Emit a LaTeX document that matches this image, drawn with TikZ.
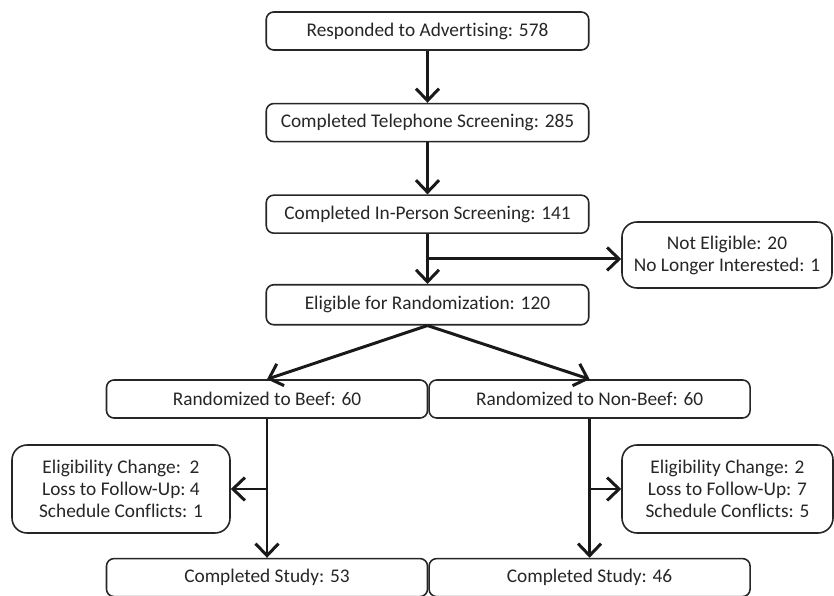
\documentclass[tikz,border=0pt]{standalone}
\usepackage{fontspec}
\setmainfont{Carlito}[Ligatures=NoCommon]
\usepackage{tikz}
\usetikzlibrary{arrows.meta, positioning, calc}

\begin{document}
\begin{tikzpicture}[
    font=\fontsize{11}{12.5}\selectfont,
    node distance=1.04cm,
    block/.style={rectangle, rounded corners=0.15cm, draw=black!85, line width=0.9pt, text=black!85, minimum width=6.45cm, minimum height=0.76cm, inner sep=0pt},
    armbox/.style={block, minimum width=6.42cm},
    sidebox/.style={rectangle, rounded corners=0.3cm, draw=black!85, line width=0.9pt, text=black!85, align=center, inner sep=0pt},
    arrow/.style={-{Straight Barb[length=2.4mm, width=4.6mm]}, line width=1.7pt, black!90}
]
    \useasboundingbox (0,0) rectangle (16.68,-11.92);

    \node [block] (advert) at (8.55,-0.62) {Responded to Advertising: 578};
    \node [block, below=of advert] (phone) {Completed Telephone Screening: 285};
    \node [block, below=of phone] (person) {Completed In-Person Screening: 141};
    \node [block, below=1.0cm of person, minimum height=0.8cm] (elig) {Eligible for Randomization: 120};
    \node [sidebox, minimum width=4.2cm, minimum height=1.32cm] (noelig) at (14.54,-5.1) {Not Eligible: 20\\No Longer Interested: 1};

    \node [armbox] (beef) at (5.34,-7.98) {Randomized to Beef: 60};
    \node [armbox, right=0pt of beef] (nonbeef) {Randomized to Non-Beef: 60};

    \node [armbox, below=2.78cm of beef] (donebeef) {Completed Study: 53};
    \node [armbox, below=2.78cm of nonbeef] (donenon) {Completed Study: 46};

    \node [sidebox, minimum width=4.36cm, minimum height=1.76cm] (dropbeef) at (2.42,-9.78) {Eligibility Change:~~2\\Loss to Follow-Up:~4\\Schedule Conflicts: 1};
    \node [sidebox, minimum width=4.22cm, minimum height=1.76cm] (dropnon) at (14.55,-9.78) {Eligibility Change: 2\\Loss to Follow-Up: 7\\Schedule Conflicts: 5};

    % branch points
    \coordinate (split) at ($(person.south)!0.5!(elig.north)$);
    \coordinate (splitbeef) at (beef.south |- dropbeef.east);
    \coordinate (splitnon) at (nonbeef.south |- dropnon.west);

    \draw [arrow] (advert) -- (phone);
    \draw [arrow] (phone) -- (person);
    \draw [arrow] (person) -- (elig);
    \draw [arrow] (split) -- (split -| noelig.west);
    \draw [arrow] (elig.south) -- (beef.north);
    \draw [arrow] (elig.south) -- (nonbeef.north);
    \draw [arrow] (beef.south) -- (beef.south |- donebeef.north);
    \draw [arrow] (splitbeef) -- (dropbeef.east);
    \draw [arrow] (nonbeef.south) -- (nonbeef.south |- donenon.north);
    \draw [arrow] (splitnon) -- (dropnon.west);
\end{tikzpicture}
\end{document}
